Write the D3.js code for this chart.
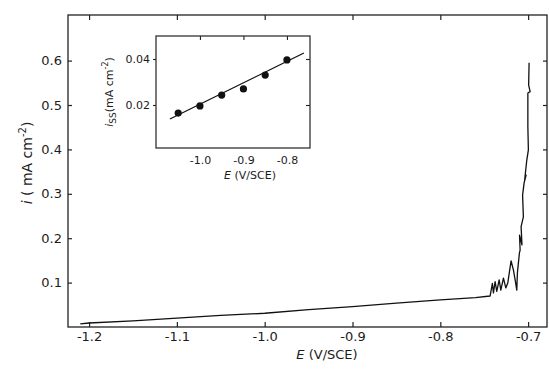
<!DOCTYPE html>
<html>
<head>
<meta charset="utf-8">
<script src="https://cdn.jsdelivr.net/npm/d3@7"></script>
<style>
  body { margin: 0; background: #fff; }
  svg { display: block; font-family: "DejaVu Sans", sans-serif; }
  text { fill: #1c1c1c; }
</style>
</head>
<body>
<div id="chart"></div>
<script>
// main polarisation curve, E (V/SCE) vs i (mA cm-2)
const curveE = [-1.210, -1.200, -1.150, -1.100, -1.050, -1.000, -0.950, -0.900, -0.850, -0.800, -0.760, -0.7433,
  -0.7407, -0.7395, -0.7376, -0.7357, -0.7330, -0.7311, -0.7281, -0.7254, -0.7232, -0.7194, -0.7167, -0.7148,
  -0.7129, -0.7122, -0.7099, -0.7091, -0.7098, -0.7084, -0.7070, -0.7080, -0.7054, -0.7063, -0.7046, -0.7023,
  -0.7040, -0.7015, -0.6997, -0.7003, -0.7003, -0.6977, -0.6994, -0.6989];
const curveI = [0.007, 0.009, 0.014, 0.020, 0.026, 0.031, 0.039, 0.046, 0.054, 0.061, 0.066, 0.0698,
  0.098, 0.077, 0.102, 0.080, 0.106, 0.083, 0.110, 0.088, 0.099, 0.149, 0.128, 0.106,
  0.083, 0.122, 0.167, 0.173, 0.207, 0.196, 0.185, 0.226, 0.248, 0.297, 0.324, 0.342,
  0.330, 0.376, 0.399, 0.451, 0.527, 0.530, 0.545, 0.595];

// inset: steady state current vs E
const insetE = [-1.05, -1.00, -0.95, -0.90, -0.85, -0.80];
const insetI = [0.0165, 0.0196, 0.0243, 0.0270, 0.0330, 0.0396];
const fitE = [-1.069, -0.761];
const fitI = [0.0139, 0.0426];

const xTicks = [-1.2, -1.1, -1.0, -0.9, -0.8, -0.7];
const yTicks = [0.1, 0.2, 0.3, 0.4, 0.5, 0.6];
const insetXTicks = [-1.0, -0.9, -0.8];
const insetYTicks = [0.02, 0.04];

const width = 549, height = 370;
const fmt = d => d3.format(".1f")(d).replace("−", "-");

const svg = d3.select("#chart").append("svg")
  .attr("width", width)
  .attr("height", height);

const x = d3.scaleLinear().domain([-1.224, -0.6785]).range([68, 547]);
const y = d3.scaleLinear().domain([0, 0.7027]).range([327, 15]);

// frame
svg.append("rect")
  .attr("x", x.range()[0]).attr("y", y.range()[1])
  .attr("width", x.range()[1] - x.range()[0])
  .attr("height", y.range()[0] - y.range()[1])
  .attr("fill", "none").attr("stroke", "#222").attr("stroke-width", 1.3);

// axes (ticks pointing inward)
svg.append("g")
  .attr("transform", "translate(0," + y.range()[0] + ")")
  .call(d3.axisBottom(x).tickValues(xTicks).tickSize(-5).tickPadding(5).tickFormat(fmt))
  .call(g => g.select(".domain").remove());
svg.append("g")
  .attr("transform", "translate(0," + y.range()[1] + ")")
  .call(d3.axisTop(x).tickValues(xTicks).tickSize(-5).tickFormat(""))
  .call(g => g.select(".domain").remove());
svg.append("g")
  .attr("transform", "translate(" + x.range()[0] + ",0)")
  .call(d3.axisLeft(y).tickValues(yTicks).tickSize(-4).tickPadding(6).tickFormat(fmt))
  .call(g => g.select(".domain").remove());
svg.append("g")
  .attr("transform", "translate(" + x.range()[1] + ",0)")
  .call(d3.axisRight(y).tickValues(yTicks).tickSize(-4).tickFormat(""))
  .call(g => g.select(".domain").remove());

svg.selectAll(".tick line").attr("stroke", "#222").attr("stroke-width", 1.2);
svg.selectAll(".tick text").style("font-size", "13px").style("font-family", "DejaVu Sans").attr("fill", "#1c1c1c");

// curve
const curve = curveE.map((e, k) => ({ e: e, i: curveI[k] }));
svg.append("path")
  .datum(curve)
  .attr("fill", "none")
  .attr("stroke", "#111")
  .attr("stroke-width", 1.3)
  .attr("stroke-linejoin", "round")
  .attr("d", d3.line().x(d => x(d.e)).y(d => y(d.i)));

// axis titles
const xt = svg.append("text")
  .attr("x", 327).attr("y", 359)
  .attr("text-anchor", "middle")
  .style("font-size", "13px");
xt.append("tspan").attr("font-style", "italic").text("E");
xt.append("tspan").text(" (V/SCE)");

const yt = svg.append("text")
  .attr("transform", "translate(32,163) rotate(-90)")
  .attr("text-anchor", "middle")
  .style("font-size", "14px");
yt.append("tspan").attr("font-style", "italic").text("i");
yt.append("tspan").text(" ( mA cm");
yt.append("tspan").attr("dy", -6).style("font-size", "10px").text("-2");
yt.append("tspan").attr("dy", 6).text(")");

// ---- inset ----
const ix = d3.scaleLinear().domain([-1.101, -0.747]).range([156, 310]);
const iy = d3.scaleLinear().domain([0.0013, 0.050]).range([148, 36]);
const inset = svg.append("g");

inset.append("rect")
  .attr("x", ix.range()[0]).attr("y", iy.range()[1])
  .attr("width", ix.range()[1] - ix.range()[0])
  .attr("height", iy.range()[0] - iy.range()[1])
  .attr("fill", "#fff").attr("stroke", "#222").attr("stroke-width", 1.2);

inset.append("g")
  .attr("transform", "translate(0," + iy.range()[0] + ")")
  .call(d3.axisBottom(ix).tickValues(insetXTicks).tickSize(0).tickPadding(8).tickFormat(fmt))
  .call(g => g.select(".domain").remove());
inset.append("g")
  .attr("transform", "translate(0," + iy.range()[1] + ")")
  .call(d3.axisTop(ix).tickValues(insetXTicks).tickSize(-4).tickFormat(""))
  .call(g => g.select(".domain").remove());
inset.append("g")
  .attr("transform", "translate(" + ix.range()[0] + ",0)")
  .call(d3.axisLeft(iy).tickValues(insetYTicks).tickSize(3).tickPadding(3).tickFormat(d3.format(".2f")))
  .call(g => g.select(".domain").remove());
inset.append("g")
  .attr("transform", "translate(" + ix.range()[1] + ",0)")
  .call(d3.axisRight(iy).tickValues(insetYTicks).tickSize(-4).tickFormat(""))
  .call(g => g.select(".domain").remove());

inset.selectAll(".tick line").attr("stroke", "#222").attr("stroke-width", 1.1);
inset.selectAll(".tick text").style("font-size", "11px").style("font-family", "DejaVu Sans").attr("fill", "#1c1c1c");

const fit = fitE.map((e, k) => ({ e: e, i: fitI[k] }));
inset.append("path")
  .datum(fit)
  .attr("fill", "none")
  .attr("stroke", "#111")
  .attr("stroke-width", 1.3)
  .attr("d", d3.line().x(d => ix(d.e)).y(d => iy(d.i)));

inset.selectAll("circle")
  .data(insetE.map((e, k) => ({ e: e, i: insetI[k] })))
  .enter()
  .append("circle")
  .attr("cx", d => ix(d.e))
  .attr("cy", d => iy(d.i))
  .attr("r", 3.6)
  .attr("fill", "#111");

const ixt = inset.append("text")
  .attr("x", 250).attr("y", 179)
  .attr("text-anchor", "middle")
  .style("font-size", "11px");
ixt.append("tspan").attr("font-style", "italic").text("E");
ixt.append("tspan").text(" (V/SCE)");

const iyt = inset.append("text")
  .attr("transform", "translate(113,92) rotate(-90)")
  .attr("text-anchor", "middle")
  .style("font-size", "11px");
iyt.append("tspan").attr("font-style", "italic").text("i");
iyt.append("tspan").attr("dy", 3).style("font-size", "9px").text("SS");
iyt.append("tspan").attr("dy", -3).text("(mA cm");
iyt.append("tspan").attr("dy", -5).style("font-size", "8px").text("-2");
iyt.append("tspan").attr("dy", 5).text(")");
</script>
</body>
</html>
